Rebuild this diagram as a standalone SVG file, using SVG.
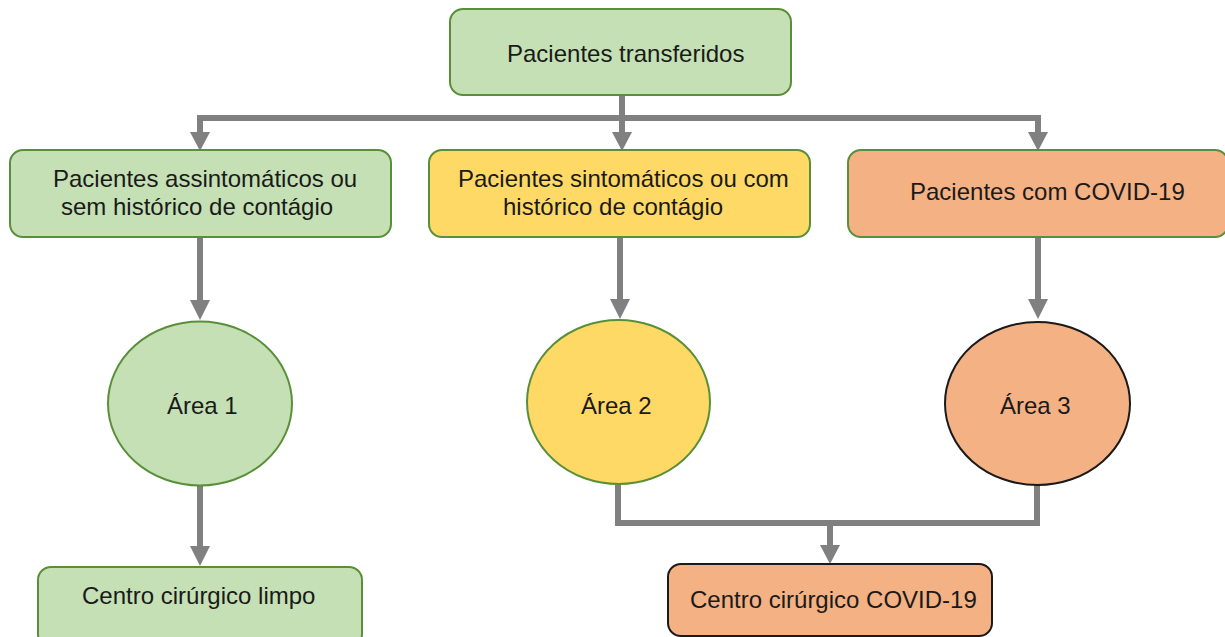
<svg xmlns="http://www.w3.org/2000/svg" width="1225" height="637" viewBox="0 0 1225 637">
<defs>
<style>
.t{font-family:"Liberation Sans",Arial,sans-serif;font-size:24px;fill:#1a1a1a}
.g{fill:#c5e0b4;stroke:#5a8f3a;stroke-width:2}
.y{fill:#ffd966;stroke:#5a8f3a;stroke-width:2}
.o{fill:#f4b183;stroke:#5a8f3a;stroke-width:2}
.ok{fill:#f4b183;stroke:#1a1a1a;stroke-width:2}
.c{fill:none;stroke:#808080;stroke-width:6}
.h{fill:#808080}
</style>
</defs>
<rect width="1225" height="637" fill="#fff"/>
<g id="connectors">
<path class="c" d="M622,95 V118"/>
<path class="c" d="M200,118 H1038"/>
<path class="c" d="M200,115 V132"/>
<path class="h" d="M190,132 L210,132 L200,151 Z"/>
<path class="c" d="M622,118 V132"/>
<path class="h" d="M612,132 L632,132 L622,151 Z"/>
<path class="c" d="M1038,115 V132"/>
<path class="h" d="M1028,132 L1048,132 L1038,151 Z"/>
<path class="c" d="M200,237 V300"/>
<path class="h" d="M190,300 L210,300 L200,320 Z"/>
<path class="c" d="M620,237 V299"/>
<path class="h" d="M610,299 L630,299 L620,319 Z"/>
<path class="c" d="M1038,237 V299"/>
<path class="h" d="M1028,299 L1048,299 L1038,319 Z"/>
<path class="c" d="M200,485 V546"/>
<path class="h" d="M190,546 L210,546 L200,566 Z"/>
<path class="c" d="M618,484 V523 H1037 V484"/>
<path class="c" d="M830,523 V545"/>
<path class="h" d="M820,545 L840,545 L830,564 Z"/>
</g>
<g id="n-top">
<rect class="g" x="450" y="9" width="341" height="86" rx="13"/>
<text class="t" x="507" y="62">Pacientes transferidos</text>
</g>
<g id="n-assint">
<rect class="g" x="10" y="150" width="381" height="87" rx="13"/>
<text class="t" x="53" y="187">Pacientes assintomáticos ou</text>
<text class="t" x="61" y="215">sem histórico de contágio</text>
</g>
<g id="n-sint">
<rect class="y" x="429" y="150" width="381" height="87" rx="13"/>
<text class="t" x="458" y="187">Pacientes sintomáticos ou com</text>
<text class="t" x="503" y="215">histórico de contágio</text>
</g>
<g id="n-covid">
<rect class="o" x="848" y="150" width="380" height="87" rx="13"/>
<text class="t" x="910" y="200">Pacientes com COVID-19</text>
</g>
<g id="n-area1">
<ellipse class="g" cx="200" cy="403.5" rx="92" ry="82"/>
<text class="t" x="167" y="414">Área 1</text>
</g>
<g id="n-area2">
<ellipse class="y" cx="618.5" cy="402" rx="91.5" ry="82"/>
<text class="t" x="581" y="414">Área 2</text>
</g>
<g id="n-area3">
<ellipse class="ok" cx="1037.5" cy="403.5" rx="92.5" ry="81.5"/>
<text class="t" x="1000" y="414">Área 3</text>
</g>
<g id="n-limpo">
<rect class="g" x="38" y="567" width="324" height="80" rx="13"/>
<text class="t" x="82" y="604">Centro cirúrgico limpo</text>
</g>
<g id="n-cc-covid">
<rect class="ok" x="668" y="564" width="324" height="72" rx="13"/>
<text class="t" x="690" y="608">Centro cirúrgico COVID-19</text>
</g>
</svg>
